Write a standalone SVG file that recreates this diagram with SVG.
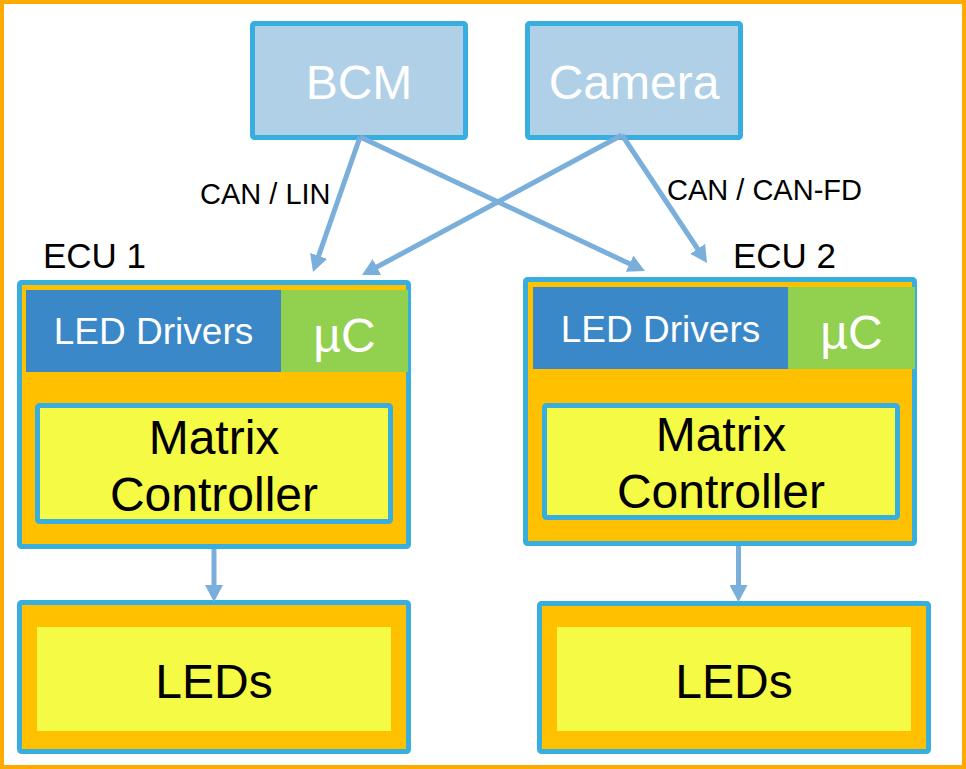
<svg xmlns="http://www.w3.org/2000/svg" width="966" height="769" viewBox="0 0 966 769">
  <style>
    text { font-family: "Liberation Sans", Arial, sans-serif; text-anchor: middle; }
    .frame { fill: #ffffff; stroke: #FFAA00; stroke-width: 4; }
    .src { fill: #B0D0E8; stroke: #38AEDF; stroke-width: 5; }
    .ecu { fill: #FFC000; stroke: #38AEDF; stroke-width: 5; }
    .mtx { fill: #F5FA45; stroke: #38AEDF; stroke-width: 5; }
    .drv { fill: #3A88C8; }
    .uc { fill: #92D050; }
    .core { fill: #F5FA45; }
    .white { fill: #ffffff; }
    .black { fill: #000000; }
    .big { font-size: 48px; }
    .mid { font-size: 37px; }
    .ecuLabel { font-size: 35px; text-anchor: start; }
    .bus { font-size: 29px; text-anchor: start; }
    .link { fill: none; stroke: #7AAFDB; stroke-width: 5; marker-end: url(#head); }
  </style>
  <defs>
    <marker id="head" markerUnits="userSpaceOnUse" markerWidth="18" markerHeight="18" refX="7" refY="9" orient="auto">
      <path d="M0,0 L17,9 L0,18 Z" fill="#7AAFDB"/>
    </marker>
  </defs>

  <rect class="frame" x="2" y="2" width="962" height="765"/>

  <g id="bcm">
    <rect class="src" x="252.5" y="23.5" width="213" height="114" rx="2"/>
    <text class="big white" x="359" y="99">BCM</text>
  </g>

  <g id="camera">
    <rect class="src" x="527.5" y="23.5" width="213" height="114" rx="2"/>
    <text class="big white" x="634" y="99">Camera</text>
  </g>

  <g id="ecu1">
    <text class="ecuLabel black" x="43" y="268">ECU 1</text>
    <rect class="ecu" x="19.5" y="282.5" width="389" height="264" rx="2"/>
    <rect class="drv" x="26" y="290" width="255" height="82"/>
    <rect class="uc" x="281" y="290" width="127" height="82"/>
    <text class="mid white" x="153.5" y="344">LED Drivers</text>
    <text class="big white" x="344.5" y="352">µC</text>
    <rect class="mtx" x="37.5" y="405.5" width="353" height="116" rx="2"/>
    <text class="big black" x="214" y="454">Matrix</text>
    <text class="big black" x="214" y="511">Controller</text>
  </g>

  <g id="ecu2">
    <text class="ecuLabel black" x="733" y="268">ECU 2</text>
    <rect class="ecu" x="525.5" y="279.5" width="389" height="264" rx="2"/>
    <rect class="drv" x="533" y="287" width="255" height="82"/>
    <rect class="uc" x="788" y="287" width="127" height="82"/>
    <text class="mid white" x="660.5" y="342">LED Drivers</text>
    <text class="big white" x="851.5" y="349">µC</text>
    <rect class="mtx" x="544.5" y="405.5" width="353" height="112" rx="2"/>
    <text class="big black" x="721" y="451">Matrix</text>
    <text class="big black" x="721" y="508">Controller</text>
  </g>

  <g id="leds1">
    <rect class="ecu" x="19.5" y="602.5" width="389" height="149" rx="2"/>
    <rect class="core" x="37" y="627" width="354" height="104"/>
    <text class="big black" x="214" y="698">LEDs</text>
  </g>

  <g id="leds2">
    <rect class="ecu" x="539.5" y="603.5" width="389" height="148" rx="2"/>
    <rect class="core" x="557" y="627" width="354" height="104"/>
    <text class="big black" x="734" y="698">LEDs</text>
  </g>

  <g id="connectors">
    <path class="link" d="M360,137 L316.3,262.5"/>
    <path class="link" d="M360,137 L635.9,266.7"/>
    <path class="link" d="M622,135 L370.8,270.3"/>
    <path class="link" d="M622,135 L701.5,254.7"/>
    <path class="link" d="M214,549 L214,592"/>
    <path class="link" d="M738.5,546 L738.5,592"/>
    <text class="bus black" x="200" y="204">CAN / LIN</text>
    <text class="bus black" x="667" y="200">CAN / CAN-FD</text>
  </g>
</svg>
